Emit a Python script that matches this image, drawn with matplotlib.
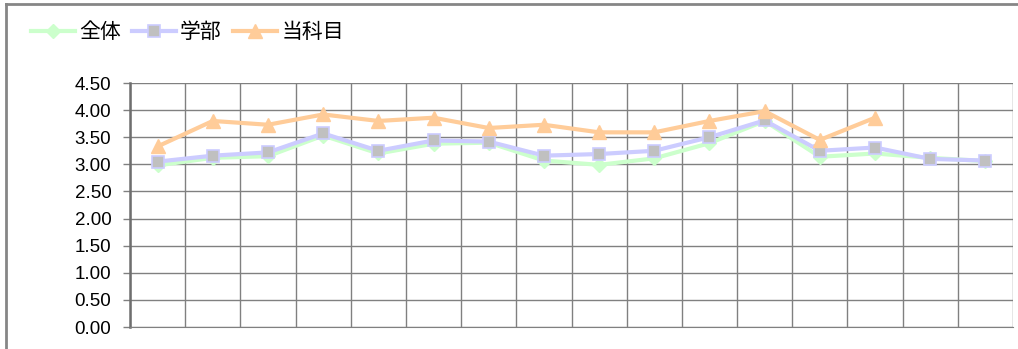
import numpy as np
import matplotlib.pyplot as plt
from matplotlib.lines import Line2D

plt.rcParams['font.family'] = ['Noto Sans CJK JP', 'DejaVu Sans']

# data (16 items, no x labels)
zentai = [2.98, 3.12, 3.15, 3.53, 3.20, 3.38, 3.40, 3.07,
          2.99, 3.11, 3.39, 3.80, 3.14, 3.20, 3.12, 3.06]
gakubu = [3.05, 3.16, 3.22, 3.57, 3.25, 3.44, 3.42, 3.16,
          3.19, 3.25, 3.50, 3.81, 3.25, 3.31, 3.10, 3.07]
tokamoku = [3.33, 3.80, 3.73, 3.92, 3.80, 3.86, 3.67, 3.73,
            3.59, 3.59, 3.80, 3.98, 3.45, 3.86, np.nan, np.nan]
series_names = ['全体', '学部', '当科目']
y_ticks = [0.0, 0.5, 1.0, 1.5, 2.0, 2.5, 3.0, 3.5, 4.0, 4.5]

x = np.arange(len(zentai)) + 0.5

fig = plt.figure(figsize=(10.18, 3.49), dpi=100)
ax = fig.add_axes([130 / 1018, 22 / 349, 883 / 1018, 244 / 349])

# chart area outline (only top and left edges visible)
fig.add_artist(Line2D([6 / 1018, 6 / 1018], [0, 1 - 4 / 349], color='#868686', lw=2))
fig.add_artist(Line2D([6 / 1018, 1], [1 - 4 / 349, 1 - 4 / 349], color='#868686', lw=2))

l1, = ax.plot(x, zentai, color='#CCFFCC', lw=3, marker='D', markersize=7,
              markerfacecolor='#CCFFCC', markeredgecolor='#CCFFCC', zorder=3)
l2, = ax.plot(x, gakubu, color='#CCCCFF', lw=3, marker='s', markersize=9,
              markerfacecolor='#C0C0C0', markeredgecolor='#CCCCFF', markeredgewidth=1.2, zorder=4)
l3, = ax.plot(x, tokamoku, color='#FFCC99', lw=3, marker='^', markersize=10,
              markerfacecolor='#FFCC99', markeredgecolor='#FFCC99', zorder=5)

ax.set_xlim(0, len(zentai))
ax.set_ylim(0, 4.5)
ax.set_yticks(y_ticks)
ax.set_yticklabels(['%.2f' % v for v in y_ticks], fontsize=13.5, family=['Liberation Sans'])
ax.set_xticks(np.arange(len(zentai) + 1))
ax.set_xticklabels([])
ax.tick_params(axis='x', length=0)
ax.tick_params(axis='y', length=5, width=1, color='#808080', pad=8.5)

ax.grid(True, color='#808080', lw=1)
ax.set_axisbelow(True)
for s in ['top', 'right']:
    ax.spines[s].set_visible(False)
ax.spines['left'].set_color('#6e6e6e')
ax.spines['left'].set_linewidth(1.8)
ax.spines['bottom'].set_color('#808080')

fig.legend([l1, l2, l3], series_names, loc='center left',
           bbox_to_anchor=(31 / 1018, 1 - 32 / 349),
           ncol=3, frameon=False, fontsize=15, handlelength=2.1, columnspacing=0.55,
           handletextpad=0.2, borderpad=0, borderaxespad=0)

plt.savefig('out.png', dpi=100)
